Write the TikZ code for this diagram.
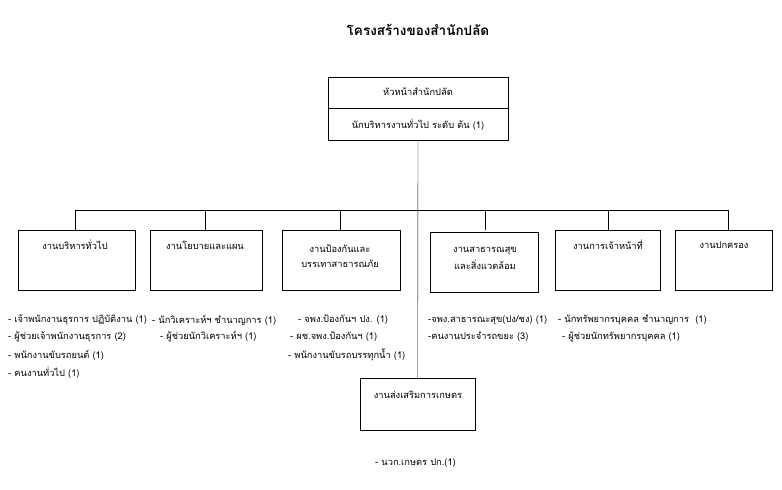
\documentclass[tikz,border=0pt]{standalone}
\usepackage{fontspec}
\setmainfont[Script=Thai]{Loma}
\usetikzlibrary{positioning}
\begin{document}
\begin{tikzpicture}[x=1pt,y=-1pt,
  font=\fontsize{9.3}{11}\selectfont,
  unit/.style = {draw, thin, anchor=north west, minimum height=60pt, align=center, inner sep=0pt},
  item/.style = {anchor=west, inner sep=0pt}]
\useasboundingbox (0,0) rectangle (782,490);

% title and head box
\node[font=\fontsize{13.5}{15}\selectfont\bfseries] (title) at (418,30) {โครงสร้างของสำนักปลัด};
\draw[thin] (328,77) rectangle (508,140);
\draw[thin] (328,108) -- (508,108);
\node (head) at (418,92) {หัวหน้าสำนักปลัด};
\node (headpos) at (418,125) {นักบริหารงานทั่วไป ระดับ ต้น (1)};
\coordinate (headbot) at (418,140);

% units, level 1
\node[unit, minimum width=117pt] (u1) at (18,230) {};
\node[unit, minimum width=112pt] (u2) at (150,230) {};
\node[unit, minimum width=118pt] (u3) at (282,230) {};
\node[unit, minimum width=108pt] (u4) at (430,232) {};
\node[unit, minimum width=105pt] (u5) at (555,230) {};
\node[unit, minimum width=97pt]  (u6) at (675,230) {};
\node[unit, minimum width=115pt, minimum height=52pt] (u7) at (360,378) {};

\node (t1) at (75,245) {งานบริหารทั่วไป};
\node (t2) at (205,245) {งานโยบายและแผน};
\node[align=center] (t3) at (340,256) {งานป้องกันและ\\[4pt]บรรเทาสาธารณภัย};
\node[align=center] (t4) at (485,258) {งานสาธารณสุข\\[4pt]และสิ่งแวดล้อม};
\node (t5) at (608,245) {งานการเจ้าหน้าที่};
\node (t6) at (724,245) {งานปกครอง};
\node (t7) at (418,395) {งานส่งเสริมการเกษตร};

% lines from head to every unit
\coordinate (busL) at (75,210);
\coordinate (busR) at (728,210);
\draw[thin] (headbot) -- (u7.north);
\draw[thin] (busL) -- (busR);
\foreach \i/\x in {1/75,2/205,3/340,4/485,5/608,6/728}
  \draw[thin] (\x,210) -- (\x,230);

% staff lists
\node[item] (s11) at (8,320) {- เจ้าพนักงานธุรการ ปฏิบัติงาน (1)};
\node[item] (s12) at (8,337) {- ผู้ช่วยเจ้าพนักงานธุรการ (2)};
\node[item] (s13) at (8,355) {- พนักงานขับรถยนต์ (1)};
\node[item] (s14) at (8,373) {- คนงานทั่วไป (1)};
\node[item] (s21) at (152,320) {- นักวิเคราะห์ฯ ชำนาญการ (1)};
\node[item] (s22) at (160,337) {- ผู้ช่วยนักวิเคราะห์ฯ (1)};
\node[item] (s31) at (298,320) {- จพง.ป้องกันฯ ปง. (1)};
\node[item] (s32) at (290,337) {- ผช.จพง.ป้องกันฯ (1)};
\node[item] (s33) at (288,355) {- พนักงานขับรถบรรทุกน้ำ (1)};
\node[item] (s41) at (428,320) {-จพง.สาธารณะสุข(ปง/ชง) (1)};
\node[item] (s42) at (428,337) {-คนงานประจำรถขยะ (3)};
\node[item] (s51) at (558,320) {- นักทรัพยากรบุคคล ชำนาญการ\ \ (1)};
\node[item] (s52) at (562,337) {- ผู้ช่วยนักทรัพยากรบุคคล (1)};
\node[item] (s71) at (375,463) {- นวก.เกษตร ปก.(1)};
\end{tikzpicture}
\end{document}
